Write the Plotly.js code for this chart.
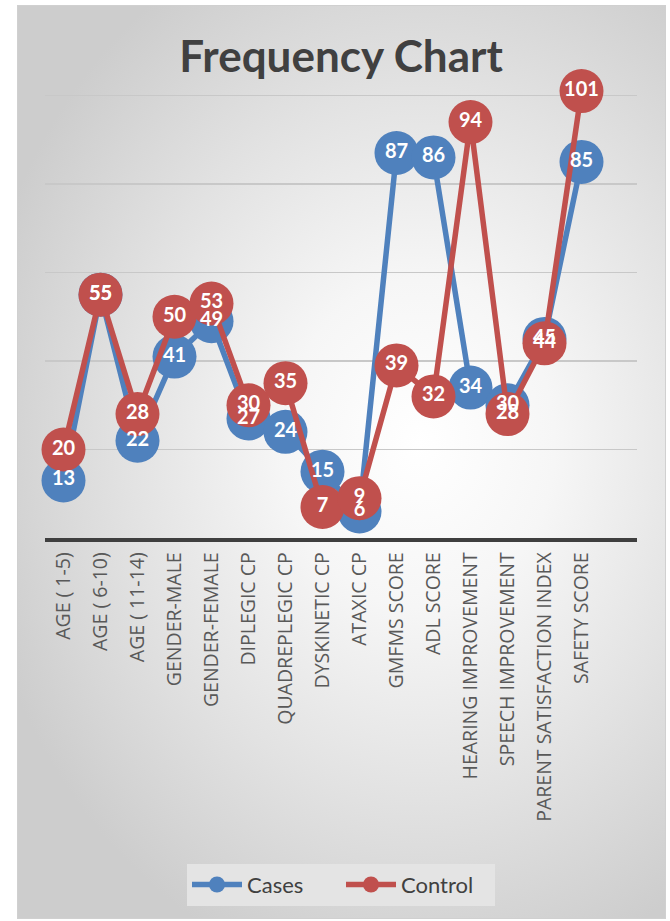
<!DOCTYPE html>
<html>
<head>
<meta charset="utf-8">
<script src="https://cdn.plot.ly/plotly-3.0.1.min.js"></script>
<style>
  html, body { margin:0; padding:0; background:#ffffff; width:670px; height:921px; overflow:hidden; }
  #bg { position:absolute; left:17px; top:5px; width:647px; height:912px;
        background: radial-gradient(ellipse 70% 60% at 62% 48%, #ffffff 0%, #f6f6f6 30%, #e2e2e2 65%, #cdcdcd 100%);
        border:1px solid #d0d0d0; }
  #chart { position:absolute; left:0; top:0; width:670px; height:921px; }
</style>
</head>
<body>
<div id="bg"></div>
<div id="chart"></div>
<script>
const categories = ["AGE ( 1-5)", "AGE ( 6-10)", "AGE ( 11-14)", "GENDER-MALE", "GENDER-FEMALE",
  "DIPLEGIC CP", "QUADREPLEGIC CP", "DYSKINETIC CP", "ATAXIC CP", "GMFMS SCORE", "ADL SCORE",
  "HEARING IMPROVEMENT", "SPEECH IMPROVEMENT", "PARENT SATISFACTION INDEX", "SAFETY SCORE"];
const casesValues = [13, 55, 22, 41, 49, 27, 24, 15, 6, 87, 86, 34, 30, 45, 85];
const controlValues = [20, 55, 28, 50, 53, 30, 35, 7, 9, 39, 32, 94, 28, 44, 101];
const seriesNames = ["Cases", "Control"];

const blue = "#4f81bd", red = "#c0504d";
const labelFont = {family: "Lato, 'Open Sans', sans-serif", size: 20, color: "#ffffff", weight: 700};

const traces = [
  {x: categories, y: casesValues, name: seriesNames[0], type: "scatter", mode: "lines+markers", cliponaxis: false,
   line: {color: blue, width: 5.5}, marker: {color: blue, size: 44}, hoverinfo: "skip"},
  {x: categories, y: controlValues, name: seriesNames[1], type: "scatter", mode: "lines+markers", cliponaxis: false,
   line: {color: red, width: 5.5}, marker: {color: red, size: 44}, hoverinfo: "skip"},
  {x: categories, y: casesValues, type: "scatter", mode: "text", text: casesValues.map(String), cliponaxis: false,
   textposition: "middle center", textfont: labelFont, showlegend: false, hoverinfo: "skip"},
  {x: categories, y: controlValues, type: "scatter", mode: "text", text: controlValues.map(String), cliponaxis: false,
   textposition: "middle center", textfont: labelFont, showlegend: false, hoverinfo: "skip"}
];

const layout = {
  width: 670, height: 921,
  paper_bgcolor: "rgba(0,0,0,0)", plot_bgcolor: "rgba(0,0,0,0)",
  margin: {l: 45, r: 33, t: 6.5, b: 383},
  title: {text: "Frequency Chart", font: {family: "Lato, 'Open Sans', sans-serif", size: 44, color: "#404040", weight: 700},
          x: 0.509, xanchor: "center", y: 1 - 57/921, yanchor: "middle", yref: "container"},
  xaxis: {type: "category", range: [-0.5, 15.5], tickangle: -90, ticks: "", ticklabelstandoff: 3,
          showgrid: false, showline: true, linecolor: "#3f3f3f", linewidth: 3.5,
          tickfont: {family: "'Open Sans', Lato, sans-serif", size: 19.5, color: "#595959"}, fixedrange: true},
  yaxis: {range: [0, 120], dtick: 20, showticklabels: false, ticks: "", showgrid: true,
          gridcolor: "#c8c8c8", gridwidth: 1.3, zeroline: false, showline: false, fixedrange: true},
  showlegend: true,
  legend: {orientation: "h", x: 0.5, xanchor: "center", y: (538 - 885) / 531.5, yanchor: "middle",
           bgcolor: "#e4e4e4", font: {family: "Lato, 'Open Sans', sans-serif", size: 22, color: "#404040"},
           itemwidth: 50, entrywidth: 89, entrywidthmode: "pixels"},
};

Plotly.newPlot("chart", traces, layout, {displayModeBar: false, staticPlot: true});
</script>
</body>
</html>
